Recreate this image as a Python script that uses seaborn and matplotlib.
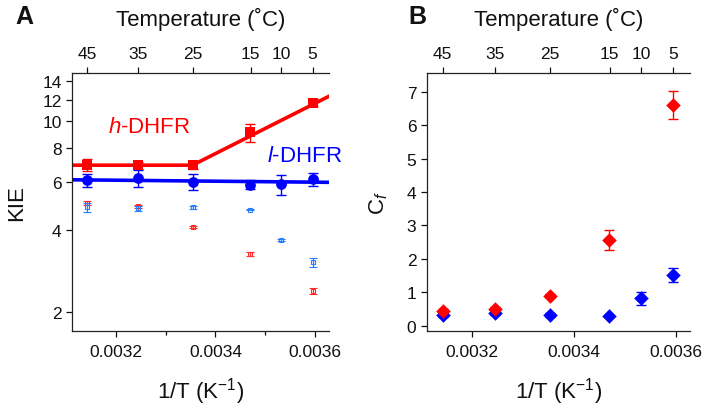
import numpy as np
import pandas as pd
import matplotlib
matplotlib.use("Agg")
import matplotlib.pyplot as plt
import seaborn as sns

# ---------------- data ----------------
temps_c = [45, 35, 25, 15, 10, 5]
inv_t = [0.003143, 0.003245, 0.003354, 0.003470, 0.003532, 0.003595]

# Panel A: KIE
h_kie_x = [0.003143, 0.003245, 0.003354, 0.003470, 0.003595]
h_kie = [6.9, 6.9, 6.9, 9.1, 11.7]
h_kie_err = [0.35, 0.2, 0.2, 0.7, 0.35]

l_kie_x = [0.003143, 0.003245, 0.003354, 0.003470, 0.003532, 0.003595]
l_kie = [6.07, 6.2, 6.0, 5.85, 5.87, 6.12]
l_kie_err = [0.33, 0.45, 0.42, 0.22, 0.5, 0.35]

h_small_x = [0.003143, 0.003245, 0.003354, 0.003470, 0.003595]
h_small = [5.01, 4.87, 4.09, 3.26, 2.38]
h_small_err = [0.1, 0.07, 0.03, 0.05, 0.06]

l_small_x = [0.003143, 0.003245, 0.003354, 0.003470, 0.003532, 0.003595]
l_small = [4.83, 4.8, 4.83, 4.74, 3.67, 3.04]
l_small_err = [0.17, 0.1, 0.07, 0.02, 0.03, 0.11]

h_fit_x = [0.003112, 0.003354, 0.003630]
h_fit = [6.9, 6.9, 12.4]
l_fit_x = [0.003112, 0.003630]
l_fit = [6.1, 5.97]

# Panel B: Cf
h_cf_x = [0.003143, 0.003245, 0.003354, 0.003470, 0.003595]
h_cf = [0.45, 0.51, 0.9, 2.57, 6.61]
h_cf_err = [0.06, 0.05, 0.04, 0.3, 0.42]

l_cf_x = [0.003143, 0.003245, 0.003354, 0.003470, 0.003532, 0.003595]
l_cf = [0.32, 0.37, 0.32, 0.29, 0.82, 1.52]
l_cf_err = [0.05, 0.05, 0.07, 0.03, 0.2, 0.21]

kie_ticks = [2, 4, 6, 8, 10, 12, 14]
cf_ticks = [0, 1, 2, 3, 4, 5, 6, 7]
x_ticks = [0.0032, 0.0034, 0.0036]
x_minor = [0.0033, 0.0035]

RED = "#ff0000"
BLUE = "#0000ff"
RED_L = "#ff2a2a"
BLUE_L = "#2a7fff"

# ---------------- style ----------------
sns.set_style("ticks")
plt.rcParams["font.family"] = ["Liberation Sans", "DejaVu Sans"]
plt.rcParams["mathtext.fontset"] = "custom"
plt.rcParams["mathtext.rm"] = "Liberation Sans"
plt.rcParams["mathtext.it"] = "Liberation Sans:italic"
plt.rcParams["axes.linewidth"] = 0.9
plt.rcParams["xtick.major.width"] = 0.9
plt.rcParams["ytick.major.width"] = 0.9
plt.rcParams["xtick.major.size"] = 4
plt.rcParams["ytick.major.size"] = 4
plt.rcParams["xtick.major.pad"] = 5
plt.rcParams["xtick.color"] = "#111111"
plt.rcParams["ytick.color"] = "#111111"
plt.rcParams["axes.edgecolor"] = "#222222"
plt.rcParams["text.color"] = "#111111"
plt.rcParams["axes.labelcolor"] = "#111111"

fig = plt.figure(figsize=(7.14, 4.10), dpi=100)
axA = fig.add_axes([0.1008, 0.190, 0.360, 0.629])
axB = fig.add_axes([0.5976, 0.190, 0.3688, 0.629])

TICK_FS = 12.5
LAB_FS = 16

def fwd(x):
    x = np.asarray(x, dtype=float)
    with np.errstate(divide="ignore"):
        return 1.0 / x - 273.15

def inv(t):
    t = np.asarray(t, dtype=float)
    with np.errstate(divide="ignore"):
        return 1.0 / (t + 273.15)

def style_axes(ax):
    ax.set_xlim(0.003112, 0.003628)
    ax.spines["right"].set_visible(False)
    ax.spines["top"].set_visible(False)
    ax.set_xticks(x_ticks)
    ax.set_xticklabels([f"{v:.4f}" for v in x_ticks], fontsize=TICK_FS)
    ax.set_xlabel("1/T (K$^{\\mathregular{-1}}$)", fontsize=LAB_FS, labelpad=12)
    sec = ax.secondary_xaxis("top", functions=(fwd, inv))
    sec.set_xticks(temps_c)
    sec.set_xticklabels([str(t) for t in temps_c], fontsize=TICK_FS)
    sec.set_xlabel("Temperature (˚C)", fontsize=LAB_FS, labelpad=15)
    sec.tick_params(direction="out", length=4, width=0.9, pad=5)
    return sec

# ---------------- Panel A ----------------
ax = axA
ax.set_yscale("log")
ax.set_ylim(1.70, 15.0)

sns.lineplot(x=h_fit_x, y=h_fit, color=RED, lw=2.6, ax=ax, legend=False)
sns.lineplot(x=l_fit_x, y=l_fit, color=BLUE, lw=2.6, ax=ax, legend=False)

ax.errorbar(h_small_x, h_small, yerr=h_small_err, fmt="s", ms=3, mfc="none",
            mec=RED_L, mew=0.8, ecolor=RED_L, elinewidth=0.9, capsize=3, capthick=0.9)
ax.errorbar(l_small_x, l_small, yerr=l_small_err, fmt="s", ms=3, mfc="none",
            mec=BLUE_L, mew=0.8, ecolor=BLUE_L, elinewidth=0.9, capsize=3, capthick=0.9)

ax.errorbar(h_kie_x, h_kie, yerr=h_kie_err, fmt="none", ecolor=RED,
            elinewidth=1.0, capsize=3.5, capthick=1.0)
ax.errorbar(l_kie_x, l_kie, yerr=l_kie_err, fmt="none", ecolor=BLUE,
            elinewidth=1.0, capsize=3.5, capthick=1.0)
sns.scatterplot(x=h_kie_x, y=h_kie, marker="s", s=45, color=RED,
                edgecolor=RED, linewidth=0, ax=ax, zorder=4)
sns.scatterplot(x=l_kie_x, y=l_kie, marker="o", s=60, color=BLUE,
                edgecolor=BLUE, linewidth=0, ax=ax, zorder=4)

ax.set_yticks(kie_ticks)
ax.set_yticklabels([str(v) for v in kie_ticks], fontsize=TICK_FS)
ax.yaxis.set_minor_locator(matplotlib.ticker.NullLocator())
ax.set_xticks(x_minor, minor=True)
ax.tick_params(axis="x", which="minor", length=3, width=0.9)
ax.set_ylabel("KIE", fontsize=LAB_FS, labelpad=11)
style_axes(ax)

ax.text(0.003185, 9.6, "$\\mathit{h}$-DHFR", color=RED, fontsize=16, ha="left", va="center")
ax.text(0.003504, 7.5, "$\\mathit{l}$-DHFR", color=BLUE, fontsize=16, ha="left", va="center")

# ---------------- Panel B ----------------
ax = axB
ax.set_ylim(-0.16, 7.55)
ax.errorbar(h_cf_x, h_cf, yerr=h_cf_err, fmt="none", ecolor=RED,
            elinewidth=1.0, capsize=3.5, capthick=1.0)
ax.errorbar(l_cf_x, l_cf, yerr=l_cf_err, fmt="none", ecolor=BLUE,
            elinewidth=1.0, capsize=3.5, capthick=1.0)
sns.scatterplot(x=l_cf_x, y=l_cf, marker="D", s=55, color=BLUE,
                edgecolor=BLUE, linewidth=0, ax=ax, zorder=4)
sns.scatterplot(x=h_cf_x, y=h_cf, marker="D", s=55, color=RED,
                edgecolor=RED, linewidth=0, ax=ax, zorder=5)
ax.set_yticks(cf_ticks)
ax.set_yticklabels([str(v) for v in cf_ticks], fontsize=TICK_FS)
ax.set_ylabel("C$_{\\mathit{f}}$", fontsize=LAB_FS, labelpad=12)
style_axes(ax)

fig.text(0.021, 0.958, "A", fontsize=18, fontweight="bold", va="center", ha="left")
fig.text(0.572, 0.958, "B", fontsize=18, fontweight="bold", va="center", ha="left")

fig.savefig("out.png", dpi=100)
